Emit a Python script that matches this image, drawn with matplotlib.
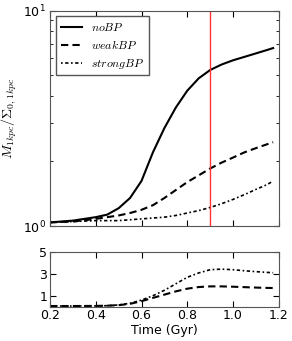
import numpy as np
import matplotlib
matplotlib.use("Agg")
import matplotlib.pyplot as plt
from matplotlib.ticker import NullFormatter

plt.rcParams['mathtext.fontset'] = 'cm'
plt.rcParams['font.family'] = 'DejaVu Sans'

# time grid (Gyr)
t = [0.2, 0.3, 0.4, 0.45, 0.5, 0.55, 0.6, 0.65, 0.7, 0.75, 0.8, 0.85,
     0.9, 0.95, 1.0, 1.05, 1.1, 1.15, 1.175]

# M_1kpc / Sigma_0,1kpc
noBP = [1.04, 1.06, 1.10, 1.13, 1.21, 1.35, 1.62, 2.2, 2.85, 3.55, 4.25, 4.85,
        5.3, 5.62, 5.88, 6.1, 6.33, 6.57, 6.7]
weakBP = [1.04, 1.05, 1.08, 1.10, 1.12, 1.15, 1.19, 1.25, 1.35, 1.47, 1.60, 1.72,
          1.85, 1.97, 2.08, 2.2, 2.3, 2.4, 2.45]
strongBP = [1.04, 1.05, 1.06, 1.06, 1.06, 1.07, 1.08, 1.09, 1.10, 1.12, 1.15, 1.18,
            1.22, 1.27, 1.33, 1.40, 1.48, 1.56, 1.62]

# lower panel
ratio_weak = [0.05, 0.05, 0.06, 0.08, 0.13, 0.25, 0.5, 0.8, 1.1, 1.4, 1.65, 1.8,
              1.86, 1.86, 1.83, 1.79, 1.75, 1.72, 1.71]
ratio_strong = [0.05, 0.05, 0.06, 0.08, 0.15, 0.3, 0.6, 1.0, 1.5, 2.1, 2.7, 3.1,
                3.4, 3.45, 3.4, 3.3, 3.22, 3.15, 3.12]

t_mark = 0.9

fig = plt.figure(figsize=(2.92, 3.41), dpi=100)
ax1 = fig.add_axes([0.171, 0.337, 0.784, 0.632])
ax2 = fig.add_axes([0.171, 0.101, 0.784, 0.159])

ax1.plot(t, noBP, 'k-', lw=1.5, label=r'$noBP$')
ax1.plot(t, weakBP, 'k', lw=1.5, dashes=(3.5, 2), label=r'$weakBP$')
ax1.plot(t, strongBP, 'k', lw=1.2, dashes=(1, 1.5, 2, 1.5), label=r'$strongBP$')
ax1.axvline(t_mark, color='#ff3333', lw=1)
ax1.set_yscale('log')
ax1.set_ylim(1, 10)
ax1.set_xlim(0.2, 1.2)
ax1.set_xticklabels([])
ax1.set_ylabel(r'$M_{1kpc}/\Sigma_{0,1kpc}$', fontsize=10)
ax1.yaxis.set_label_coords(-0.135, 0.5)
ax1.yaxis.set_minor_formatter(NullFormatter())
ax1.legend(loc='upper left', fontsize=8.5, fancybox=False, handlelength=1.8,
           labelspacing=0.4, borderaxespad=0.5, edgecolor='#555555', framealpha=1)

ax2.plot(t, ratio_weak, 'k', lw=1.5, dashes=(3.5, 2))
ax2.plot(t, ratio_strong, 'k', lw=1.2, dashes=(1, 1.5, 2, 1.5))
ax2.set_xlim(0.2, 1.2)
ax2.set_ylim(0, 5)
ax2.set_yticks([1, 3, 5])
ax2.set_xlabel('Time (Gyr)', fontsize=9, labelpad=1)

for ax in (ax1, ax2):
    ax.tick_params(which='both', direction='in', top=True, right=True, labelsize=9)
    ax.tick_params(which='major', length=4)
    ax.tick_params(which='minor', length=2)
    for s in ax.spines.values():
        s.set_color('#555555')
ax2.tick_params(axis='x', pad=2)
ax1.tick_params(axis='y', pad=3)
ax2.tick_params(axis='y', pad=2)

fig.savefig('out.png', dpi=100)
